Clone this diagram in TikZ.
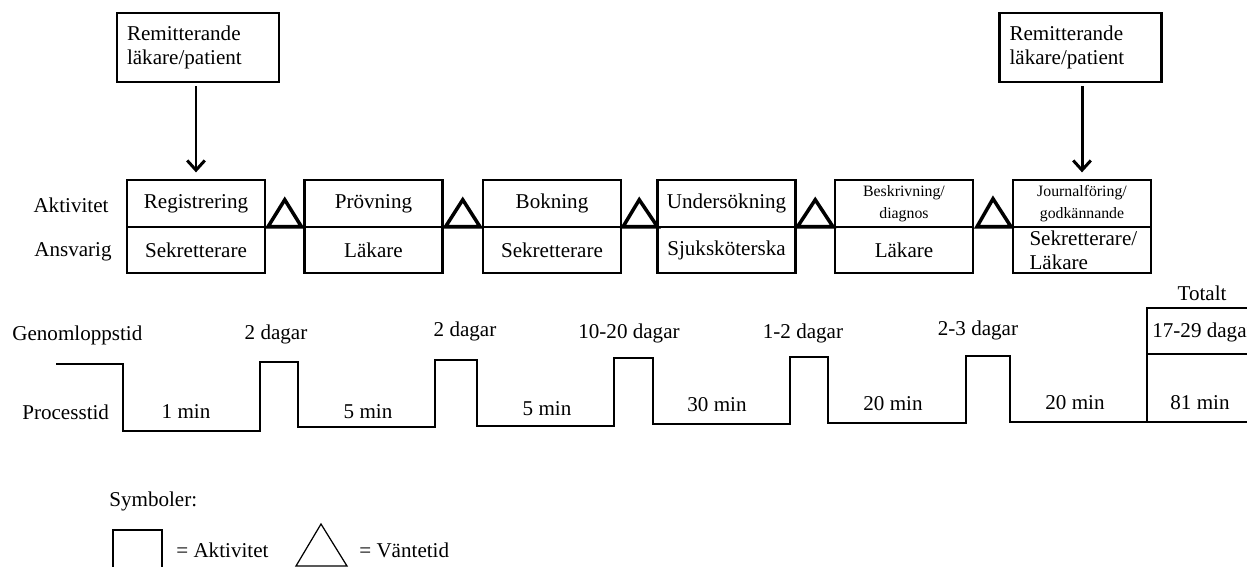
\documentclass[tikz,border=0pt]{standalone}
\usepackage{fontspec}
\setmainfont{Liberation Serif}
\usetikzlibrary{positioning,arrows.meta,calc}
\tikzset{
  >={Straight Barb[length=5.5pt,width=10pt]},
}

\begin{document}
\begin{tikzpicture}[
  x=0.02cm,y=-0.02cm,
  font=\fontsize{12}{13.7}\selectfont,
  every node/.style={inner sep=0pt},
  akt/.style={draw,line width=1.2pt,outer sep=0pt,minimum width=2.76cm,minimum height=0.93cm,align=center},
  smal/.style={font=\fontsize{9}{12.2}\selectfont},
  remit/.style={draw,line width=1.2pt,outer sep=0pt,minimum width=3.24cm,minimum height=1.38cm,text width=2.84cm,align=left},
  vent/.style={line width=2pt,line join=miter},
  flode/.style={line width=1.2pt},
  pil/.style={->,line width=1.7pt,shorten <=2.3pt,shorten >=4.5pt}
]
  \useasboundingbox (0,0) rectangle (1247,566);
  \clip (0,0) rectangle (1247,566);

  % remitterande
  \node[remit] (rem1) at (198,47.5) {Remitterande\\läkare/patient};
  \node[remit] (rem2) at (1080.5,47.5) {Remitterande\\läkare/patient};

  % aktiviteter och ansvariga
  \node (aktlbl) at (71,205) {Aktivitet};
  \node (anslbl) at (73,252) {Ansvarig};

  \node[akt] (a1) at (196,203.5) {Registrering};
  \node[akt,below=0pt of a1] (r1) {Sekretterare};
  \node[akt] (a2) at (373.5,203.5) {Prövning};
  \node[akt,below=0pt of a2] (r2) {Läkare};
  \node[akt] (a3) at (552,203.5) {Bokning};
  \node[akt,below=0pt of a3] (r3) {Sekretterare};
  \node[akt] (a4) at (726.5,203.5) {Undersökning};
  \node[akt,below=0pt of a4] (r4) {Sjuksköterska};
  \node[akt,smal] (a5) at (904,203.5) {Beskrivning/\\diagnos};
  \node[akt,below=0pt of a5] (r5) {Läkare};
  \node[akt,smal] (a6) at (1082,203.5) {Journalföring/\\godkännande};
  \node[akt,below=0pt of a6,text width=2.1cm,align=left] (r6) {Sekretterare/\\Läkare};

  \draw[pil] (rem1.south -| a1.north) -- (a1.north);
  \draw[pil] (rem2.south -| a6.north) -- (a6.north);

  % vantetid
  \draw[vent] ($(a1.south east)+(3,0)$) -- ($(a1.south east)!.5!(a2.south west)+(0,-27)$) -- ($(a2.south west)+(-3,0)$) -- cycle;
  \draw[vent] ($(a2.south east)+(3,0)$) -- ($(a2.south east)!.5!(a3.south west)+(0,-27)$) -- ($(a3.south west)+(-3,0)$) -- cycle;
  \draw[vent] ($(a3.south east)+(2,0)$) -- ($(a3.south east)!.5!(a4.south west)+(0,-27)$) -- ($(a4.south west)+(0,0)$) -- cycle;
  \draw[vent] ($(a4.south east)+(2,0)$) -- ($(a4.south east)!.5!(a5.south west)+(0,-27)$) -- ($(a5.south west)+(-2,0)$) -- cycle;
  \draw[vent] ($(a5.south east)+(4,0)$) -- ($(a5.south east)!.5!(a6.south west)+(0,-28)$) -- ($(a6.south west)+(-2,0)$) -- cycle;

  % tidslinje
  \node[anchor=west] (glbl) at (12,335) {Genomloppstid};
  \node[anchor=west] (plbl) at (22,412) {Processtid};

  \draw[flode] (56,364) -| (123,431) -| (260,362) -| (298,427) -| (435,360)
    -| (477,426) -| (614,358) -| (653,424) -| (790,357) -| (828,423)
    -| (966,356) -| (1010,422) -- (1260,422);
  \draw[flode] (1260,308) -| (1147,422);
  \draw[flode] (1147,354) -- (1260,354);

  \node (g1) at (276,334) {2 dagar};
  \node (g2) at (465,331) {2 dagar};
  \node (g3) at (629,333) {10-20 dagar};
  \node (g4) at (803,333) {1-2 dagar};
  \node (g5) at (978,330) {2-3 dagar};

  \node (p1) at (186,412) {1 min};
  \node (p2) at (368,412) {5 min};
  \node (p3) at (547,409) {5 min};
  \node (p4) at (717,405) {30 min};
  \node (p5) at (893,404) {20 min};
  \node (p6) at (1075,403) {20 min};

  \node (tot) at (1202,293) {Totalt};
  \node[anchor=west] (totg) at (1152,332) {17-29 dagar};
  \node (totp) at (1200,403) {81 min};

  % symboler
  \node[anchor=west] (sym) at (109,501) {Symboler:};
  \draw[line width=1.2pt] (113,575) |- (162,530) -- (162,575);
  \node[anchor=west] (symakt) at (176,550) {= Aktivitet};
  \draw[line width=0.7pt] (296,566) -- (321,524) -- (347,566) -- cycle;
  \node[anchor=west] (symvent) at (359,550) {= Väntetid};
\end{tikzpicture}
\end{document}
